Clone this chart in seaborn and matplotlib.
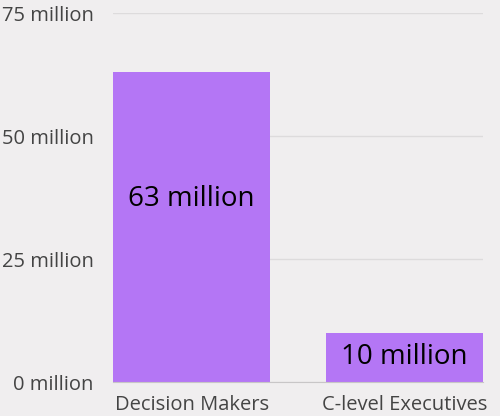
import seaborn as sns
import matplotlib.pyplot as plt
import pandas as pd

# data
groups = ['Decision Makers', 'C-level Executives']
values = [63, 10]
value_labels = ['63 million', '10 million']
yticks = [0, 25, 50, 75]
ytick_labels = ['0 million', '25 million', '50 million', '75 million']

bg = '#f0eeef'
purple = '#b476f5'

sns.set_style('white')
plt.rcParams['font.family'] = ['Open Sans', 'DejaVu Sans']

df = pd.DataFrame({'group': groups, 'value': values})

fig = plt.figure(figsize=(5, 4.16), dpi=100, facecolor=bg)
ax = fig.add_axes([0.226, 0.0817, 0.74, 0.887])
ax.set_facecolor(bg)

sns.barplot(data=df, x='group', y='value', color=purple, saturation=1,
            width=0.737, linewidth=0, ax=ax, zorder=3)

ax.set_ylim(0, 75)
ax.set_xlim(-0.37, 1.37)
ax.set_yticks(yticks)
ax.set_yticklabels(ytick_labels)
ax.yaxis.grid(True, color='#dddbdc', linewidth=1, zorder=0)
ax.set_xlabel('')
ax.set_ylabel('')
ax.tick_params(axis='both', length=0, labelsize=14.5, colors='#444444')
ax.tick_params(axis='y', pad=14)
ax.tick_params(axis='x', pad=9)
for s in ['top', 'right', 'left']:
    ax.spines[s].set_visible(False)
ax.spines['bottom'].set_color('#c8c6c7')
ax.spines['bottom'].set_zorder(4)

# value labels inside bars
for i, (v, lab) in enumerate(zip(values, value_labels)):
    y = v * 0.59 if v > 30 else v / 2
    ax.text(i, y, lab, ha='center', va='center', fontsize=20, color='black', zorder=5)

plt.savefig('out.png', dpi=100, facecolor=bg)
